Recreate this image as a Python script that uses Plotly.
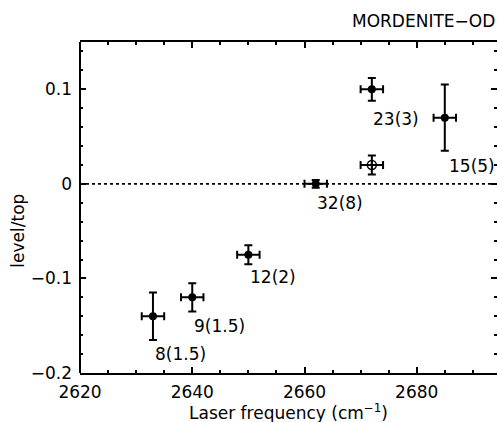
import plotly.graph_objects as go

# Filled points
freq = [2633, 2640, 2650, 2662, 2672, 2685]
level = [-0.14, -0.12, -0.075, 0.0, 0.10, 0.07]
freq_err = [2, 2, 2, 2, 2, 2]
level_err = [0.025, 0.015, 0.01, 0.004, 0.012, 0.035]
labels = ["8(1.5)", "9(1.5)", "12(2)", "32(8)", "23(3)", "15(5)"]

# Open point
open_freq = [2672]
open_level = [0.02]
open_freq_err = [2]
open_level_err = [0.01]

x_ticks = [2620, 2640, 2660, 2680]
y_ticks = [-0.2, -0.1, 0, 0.1]
y_ticklabels = ["\u22120.2", "\u22120.1", "0", "0.1"]

FONT = "DejaVu Sans"
fig = go.Figure()

# dotted zero line
fig.add_shape(type="line", xref="paper", yref="y", x0=0, x1=1, y0=0, y1=0,
              line=dict(color="black", width=1.8, dash="dot"))

fig.add_trace(go.Scatter(
    x=freq, y=level, mode="markers",
    marker=dict(symbol="circle", size=8, color="black"),
    error_x=dict(type="data", array=freq_err, color="black", thickness=2, width=4),
    error_y=dict(type="data", array=level_err, color="black", thickness=2, width=4),
    showlegend=False, cliponaxis=False))

fig.add_trace(go.Scatter(
    x=open_freq, y=open_level, mode="markers",
    marker=dict(symbol="circle-cross-open", size=9, color="black", line=dict(width=1.5)),
    error_x=dict(type="data", array=open_freq_err, color="black", thickness=2, width=4),
    error_y=dict(type="data", array=open_level_err, color="black", thickness=2, width=4),
    showlegend=False, cliponaxis=False))

offsets = [(28, -38), (27, -29), (25, -22), (24, -19), (24, -30), (27, -48)]
for x, y, t, (dx, dy) in zip(freq, level, labels, offsets):
    fig.add_annotation(x=x, y=y, text=t, showarrow=False, xshift=dx, yshift=dy,
                       font=dict(family=FONT, size=17, color="black"))

# left axis line
fig.add_shape(type="line", xref="paper", yref="paper", x0=0, x1=0, y0=0, y1=1,
              line=dict(color="black", width=2))

fig.add_annotation(xref="paper", yref="paper", x=1, y=1, yshift=21, xanchor="right",
                   yanchor="middle", text="MORDENITE\u2212OD", showarrow=False,
                   font=dict(family=FONT, size=17, color="black"))
fig.add_annotation(xref="paper", yref="paper", x=0.5, y=0, yshift=-39, xanchor="center",
                   yanchor="middle", text="Laser frequency (cm<sup>\u22121</sup>)", showarrow=False,
                   font=dict(family=FONT, size=17, color="black"))
fig.add_annotation(xref="paper", yref="paper", x=0, xshift=-62, y=0.43, xanchor="center",
                   yanchor="middle", text="level/top", textangle=-90, showarrow=False,
                   font=dict(family=FONT, size=17, color="black"))

fig.update_layout(
    width=497, height=422,
    margin=dict(l=80, r=0, t=42, b=49),
    plot_bgcolor="white", paper_bgcolor="white",
    font=dict(family=FONT, size=17, color="black"),
    xaxis=dict(range=[2620, 2694.3], tickvals=x_ticks, showgrid=False, zeroline=False,
               showline=True, linewidth=2, linecolor="black", mirror="ticks",
               ticks="inside", ticklen=6, tickwidth=1.5, tickcolor="black",
               ticklabelstandoff=3,
               minor=dict(dtick=5, tick0=2620, ticks="inside", ticklen=3, tickwidth=1.5, tickcolor="black"),
               tickfont=dict(family=FONT, size=17)),
    yaxis=dict(range=[-0.2, 0.15], tickvals=y_ticks, ticktext=y_ticklabels, showgrid=False,
               zeroline=False, showline=False, mirror="ticks",
               ticks="inside", ticklen=6, tickwidth=1.5, tickcolor="black",
               ticklabelstandoff=7,
               minor=dict(dtick=0.02, tick0=0, ticks="inside", ticklen=3, tickwidth=1.5, tickcolor="black"),
               tickfont=dict(family=FONT, size=17)),
)

fig.write_html("out.html", config={"displayModeBar": False},
               post_script="document.body.style.margin='0';document.body.style.overflow='hidden';")
